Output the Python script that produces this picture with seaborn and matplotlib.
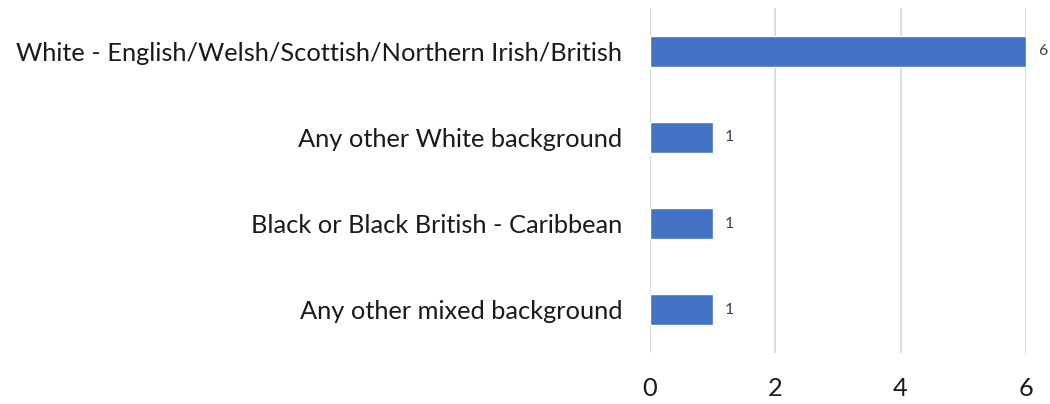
import matplotlib
matplotlib.use("Agg")
import matplotlib.pyplot as plt
import seaborn as sns
import pandas as pd

categories = [
    "White - English/Welsh/Scottish/Northern Irish/British",
    "Any other White background",
    "Black or Black British - Caribbean",
    "Any other mixed background",
]
counts = [6, 1, 1, 1]
x_ticks = [0, 2, 4, 6]

df = pd.DataFrame({"category": categories, "count": counts})

sns.set_theme(style="white")
plt.rcParams["font.family"] = ["Lato", "DejaVu Sans"]

fig = plt.figure(figsize=(10.5, 4.04), dpi=100)
ax = fig.add_axes([0.619, 0.126, 0.358, 0.854])

sns.barplot(data=df, x="count", y="category", orient="h", color="#4472C4",
            saturation=1, width=0.36, ax=ax, zorder=3)

ax.set_xlim(0, 6)
ax.set_xticks(x_ticks)
ax.set_xticklabels([str(t) for t in x_ticks])
ax.set_xlabel("")
ax.set_ylabel("")
ax.grid(axis="x", color="#d9d9d9", linewidth=1.3, zorder=0)
ax.grid(axis="y", visible=False)
for s in ax.spines.values():
    s.set_visible(False)

ax.tick_params(axis="y", length=0, pad=20, labelsize=18.3, labelcolor="#1a1a1a")
ax.tick_params(axis="x", length=0, pad=17, labelsize=18.3, labelcolor="#1a1a1a")

for cont in ax.containers:
    ax.bar_label(cont, labels=[str(v) for v in counts], padding=9,
                 fontsize=11.5, color="#404040")

fig.savefig("out.png", dpi=100)
